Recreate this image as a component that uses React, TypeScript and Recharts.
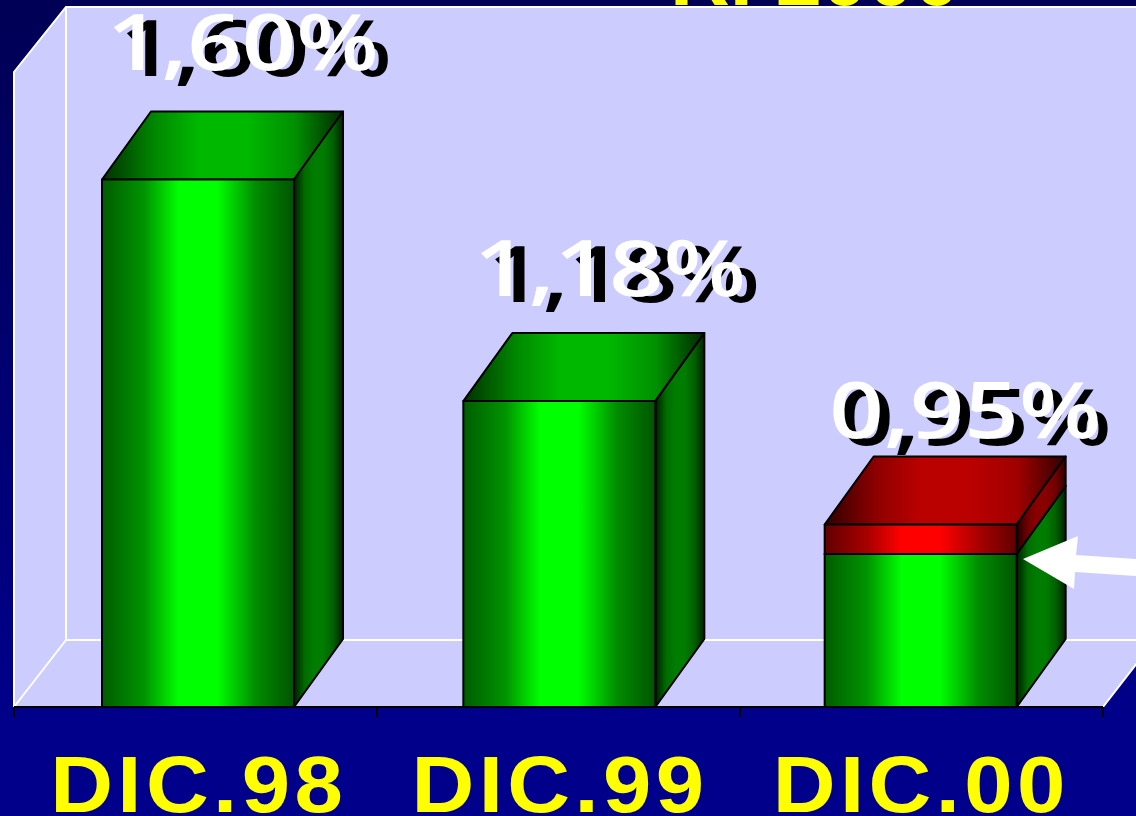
import { ComposedChart, Bar, Line, XAxis, YAxis, LabelList } from 'recharts';

const categories = ['DIC.98', 'DIC.99', 'DIC.00'];
const baseValues = [1.6, 1.18, 0.89];
const topValues = [0, 0, 0.056];
const totalValues = [1.6, 1.18, 0.946];
const valueLabels = ['1,60%', '1,18%', '0,95%'];

const data = categories.map((name, i) => ({
  name,
  base: baseValues[i],
  top: topValues[i],
  total: totalValues[i],
}));

const W = 1136;
const H = 816;
const LEFT = 14;
const RIGHT = 1103;
const WALL_TOP = 72;
const PLOT_TOP = 74;
const FLOOR = 707;
const DX = 52;
const BAR_DX = 49;
const DY = -68;
const AXIS_H = 20;

// hand placed labels in the original, so each one has its own nudge
const labelNudge = [
  { dx: 45, dy: -110, sx: 13, sy: 6 },
  { dx: 51, dy: -105, sx: 14, sy: 6 },
  { dx: 45, dy: -86, sx: 10, sy: 7 },
];

const Gradient = ({ id, edgeL, shoulderL, mid, shoulderR, edgeR }: any) => (
  <linearGradient id={id} x1="0" y1="0" x2="1" y2="0">
    <stop offset="0%" stopColor={edgeL} />
    <stop offset="22%" stopColor={shoulderL} />
    <stop offset="40%" stopColor={mid} />
    <stop offset="60%" stopColor={mid} />
    <stop offset="80%" stopColor={shoulderR} />
    <stop offset="100%" stopColor={edgeR} />
  </linearGradient>
);

const box = (prefix: string) => (props: any) => {
  const { x, y, width, height } = props;
  if (!height || height <= 0) return null;
  const r = x + width;
  const b = y + height;
  return (
    <g stroke="#000" strokeWidth={2} strokeLinejoin="round">
      <polygon
        points={`${x},${y} ${x + BAR_DX},${y + DY} ${r + BAR_DX},${y + DY} ${r},${y}`}
        fill={`url(#${prefix}Top)`}
      />
      <polygon
        points={`${r},${y} ${r + BAR_DX},${y + DY} ${r + BAR_DX},${b + DY} ${r},${b}`}
        fill={`url(#${prefix}Side)`}
      />
      <rect x={x} y={y} width={width} height={height} fill={`url(#${prefix}Front)`} />
    </g>
  );
};

const ValueLabel = (props: any) => {
  const { x, y, index } = props;
  const n = labelNudge[index];
  const common = {
    fontFamily: '"Open Sans", sans-serif',
    fontSize: 77,
    fontWeight: 600,
    textAnchor: 'middle' as const,
    textLength: 272,
    lengthAdjust: 'spacingAndGlyphs' as const,
  };
  return (
    <g>
      <text {...common} x={x + n.dx + n.sx} y={y + n.dy + n.sy} fill="#000">
        {valueLabels[index]}
      </text>
      <text {...common} x={x + n.dx} y={y + n.dy} fill="#fff">
        {valueLabels[index]}
      </text>
    </g>
  );
};

const CategoryTick = (props: any) => {
  const { x, index, payload } = props;
  const band = (RIGHT - LEFT) / categories.length;
  const tickX = LEFT + index * band;
  return (
    <g>
      <line x1={tickX} x2={tickX} y1={FLOOR} y2={FLOOR + 10} stroke="#000" strokeWidth={2} />
      {index === categories.length - 1 && (
        <line x1={RIGHT} x2={RIGHT} y1={FLOOR} y2={FLOOR + 10} stroke="#000" strokeWidth={2} />
      )}
      <text
        x={x + 1}
        y={812}
        textAnchor="middle"
        fill="#ffff00"
        fontFamily='"Liberation Sans", Arial, sans-serif'
        fontWeight={700}
        fontSize={79}
        letterSpacing={4}
        textLength={297}
        lengthAdjust="spacingAndGlyphs"
      >
        {payload.value}
      </text>
    </g>
  );
};

export default function App() {
  return (
    <div
      style={{
        position: 'absolute',
        left: 0,
        top: 0,
        width: W,
        height: H,
        overflow: 'hidden',
        background: 'linear-gradient(180deg, #000055 0%, #00008b 90%)',
      }}
    >
      <ComposedChart
        width={W}
        height={H}
        data={data}
        margin={{ top: PLOT_TOP, right: W - RIGHT, bottom: H - FLOOR - AXIS_H, left: LEFT }}
      >
        <defs>
          <Gradient id="greenFront" edgeL="#005c00" shoulderL="#009400" mid="#00ff00" shoulderR="#008c00" edgeR="#005400" />
          <Gradient id="greenTop" edgeL="#003000" shoulderL="#008800" mid="#00b800" shoulderR="#009000" edgeR="#002800" />
          <Gradient id="greenSide" edgeL="#001c00" shoulderL="#006c00" mid="#007c00" shoulderR="#006000" edgeR="#002000" />
          <Gradient id="redFront" edgeL="#600000" shoulderL="#a80000" mid="#ff0000" shoulderR="#a80000" edgeR="#600000" />
          <Gradient id="redTop" edgeL="#300000" shoulderL="#900000" mid="#bb0000" shoulderR="#a00000" edgeR="#300000" />
          <Gradient id="redSide" edgeL="#200000" shoulderL="#700000" mid="#880000" shoulderR="#700000" edgeR="#300000" />
        </defs>

        {/* 3d walls of the plot */}
        <polygon
          points={`${LEFT},${WALL_TOP} ${LEFT + DX},7 ${W + 60},7 ${W + 60},640 ${RIGHT + DX},640 ${RIGHT},${FLOOR} ${LEFT},${FLOOR}`}
          fill="#ccccff"
        />
        <g stroke="#fff" strokeWidth={2} fill="none">
          <polyline points={`${LEFT},${FLOOR} ${LEFT},${WALL_TOP} ${LEFT + DX},7 ${W},7`} />
          <line x1={LEFT + DX} x2={LEFT + DX} y1={7} y2={640} />
          <line x1={LEFT + DX} x2={W} y1={640} y2={640} />
          <line x1={LEFT} y1={FLOOR} x2={LEFT + DX} y2={640} />
          <line x1={RIGHT} y1={FLOOR} x2={RIGHT + DX} y2={640} />
        </g>

        <text
          x={670}
          y={5}
          fill="#ffff00"
          fontFamily='"Liberation Sans", Arial, sans-serif'
          fontWeight={700}
          fontSize={80}
          textLength={290}
          lengthAdjust="spacingAndGlyphs"
        >
          RI 2000
        </text>

        <XAxis
          dataKey="name"
          height={AXIS_H}
          stroke="#000"
          strokeWidth={2}
          tickLine={false}
          padding={{ left: 3, right: 2 }}
          tick={<CategoryTick />}
          interval={0}
        />
        <YAxis hide domain={[0.6, 1.8]} allowDataOverflow />
        <Bar dataKey="base" stackId="a" barSize={192} shape={box('green')} isAnimationActive={false} />
        <Bar dataKey="top" stackId="a" barSize={192} shape={box('red')} isAnimationActive={false} />
        <Line dataKey="total" stroke="none" dot={false} activeDot={false} isAnimationActive={false}>
          <LabelList dataKey="total" content={<ValueLabel />} />
        </Line>
      </ComposedChart>

      {/* arrow pointing at the 2000 bar, bars paint over chart children so it sits on top */}
      <svg width={W} height={H} style={{ position: 'absolute', left: 0, top: 0, pointerEvents: 'none' }}>
        <polygon
          points="1023,559 1078,536 1076,555 1136,559 1136,576 1075,572 1074,589"
          fill="#fff"
        />
      </svg>
    </div>
  );
}
